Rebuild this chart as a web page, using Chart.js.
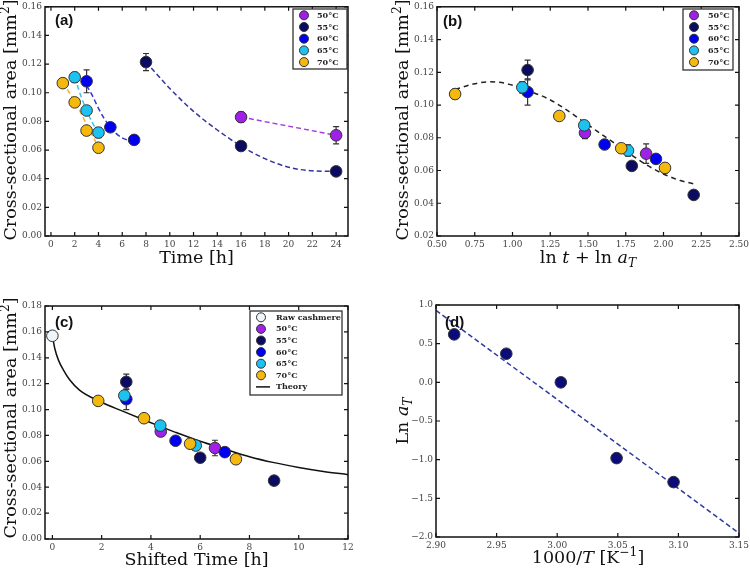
<!DOCTYPE html>
<html>
<head>
<meta charset="utf-8">
<script src="https://cdn.jsdelivr.net/npm/chart.js@4.4.1/dist/chart.umd.min.js"></script>
<style>
  body { margin: 0; background: #fff; }
  #wrap { position: relative; width: 750px; height: 568px; }
  .p { position: absolute; width: 375px; height: 284px; }
</style>
</head>
<body>
<div id="wrap">
  <div class="p" style="left:0;top:0"><canvas id="ca"></canvas></div>
  <div class="p" style="left:375px;top:0"><canvas id="cb"></canvas></div>
  <div class="p" style="left:0;top:284px"><canvas id="cc"></canvas></div>
  <div class="p" style="left:375px;top:284px"><canvas id="cd"></canvas></div>
</div>
<script>
// ---- data ----
const temps = ['50°C', '55°C', '60°C', '65°C', '70°C'];

// (a) time [h] vs cross-sectional area [mm2]
const time50 = [16, 24];
const time55 = [8, 16, 24];
const time60 = [3, 5, 7];
const time65 = [2, 3, 4];
const time70 = [1, 2, 3, 4];
const area50 = [0.083, 0.0703];
const area55 = [0.1214, 0.0628, 0.0451];
const area60 = [0.108, 0.0759, 0.0671];
const area65 = [0.1108, 0.0876, 0.0722];
const area70 = [0.1067, 0.0933, 0.0736, 0.0616];
const err50 = [0.0035, 0.006];
const err55 = [0.006, 0.0015, 0.001];
const err60 = [0.008, 0.0015, 0.001];
const err65 = [0.0035, 0.002, 0.0035];
const err70 = [0.003, 0.002, 0.0015, 0.003];

// (a) dashed fit curves, traced
const fit50X = [16, 24];
const fit50Y = [0.083, 0.0703];
const fit55X = [8, 10, 12, 14, 16, 18, 20, 22, 24];
const fit55Y = [0.1214, 0.103, 0.087, 0.074, 0.0628, 0.054, 0.048, 0.0455, 0.0451];
const fit60X = [3, 3.5, 4, 4.5, 5, 5.5, 6, 6.5, 7];
const fit60Y = [0.105, 0.0978, 0.0891, 0.0818, 0.0759, 0.0715, 0.0685, 0.0671, 0.0671];
const fit65X = [2, 2.5, 3, 3.5, 4];
const fit65Y = [0.1108, 0.0982, 0.0876, 0.0789, 0.0722];
const fit70X = [1, 2, 3, 4];
const fit70Y = [0.107, 0.094, 0.078, 0.062];

// (b) ln t + ln aT
const lnx50 = [1.48, 1.885];
const lnx55 = [1.10, 1.79, 2.20];
const lnx60 = [1.10, 1.61, 1.95];
const lnx65 = [1.065, 1.475, 1.765];
const lnx70 = [0.62, 1.31, 1.72, 2.01];
const bFitX = [0.62, 0.74, 0.85, 0.96, 1.09, 1.23, 1.34, 1.45, 1.56, 1.67, 1.78, 1.89, 2.00, 2.11, 2.20];
const bFitY = [0.1095, 0.1128, 0.1142, 0.1131, 0.1091, 0.1041, 0.0981, 0.0911, 0.0840, 0.0770, 0.0700, 0.0633, 0.0579, 0.0539, 0.0519];

// (c) shifted time [h]
const rawX = [0];
const rawY = [0.157];
const st50 = [4.4, 6.6];
const st55 = [3.0, 6.0, 9.0];
const st60 = [3.0, 5.0, 7.0];
const st65 = [2.92, 4.38, 5.82];
const st70 = [1.86, 3.72, 5.59, 7.45];
const theoryX = [0, 0.1, 0.25, 0.45, 0.7, 1.1, 1.86, 2.9, 3.8, 4.4, 5.0, 6.0, 7.0, 8.0, 9.0, 10.0, 11.0, 12.0];
const theoryY = [0.157, 0.147, 0.138, 0.1305, 0.123, 0.115, 0.1068, 0.0984, 0.0914, 0.0868, 0.0824, 0.0755, 0.0695, 0.0636, 0.059, 0.0553, 0.0522, 0.0497];

// (d) Arrhenius plot
const invT = [2.915, 2.958, 3.003, 3.049, 3.096];
const lnaT = [0.62, 0.37, 0.0, -0.98, -1.29];
const dFitX = [2.90, 3.15];
const dFitY = [0.93, -1.95];

// tick labels
const ticksTime = [0, 2, 4, 6, 8, 10, 12, 14, 16, 18, 20, 22, 24];
const ticksAreaA = [0, 0.02, 0.04, 0.06, 0.08, 0.10, 0.12, 0.14, 0.16];
const ticksLnX = [0.5, 0.75, 1.0, 1.25, 1.5, 1.75, 2.0, 2.25, 2.5];
const ticksAreaB = [0.02, 0.04, 0.06, 0.08, 0.10, 0.12, 0.14, 0.16];
const ticksShift = [0, 2, 4, 6, 8, 10, 12];
const ticksAreaC = [0, 0.02, 0.04, 0.06, 0.08, 0.10, 0.12, 0.14, 0.16, 0.18];
const ticksInvT = [2.90, 2.95, 3.00, 3.05, 3.10, 3.15];
const ticksLnA = [-2.0, -1.5, -1.0, -0.5, 0.0, 0.5, 1.0];

// ---- styles ----
const SERIF = '"DejaVu Serif", serif';
const fill = ['#a020e8', '#0b0b62', '#0000f0', '#1ec2f0', '#f5b80c'];
const fitColors = ['#a040e0', '#34349a', '#3636cc', '#3cc4e8', '#f0b428'];
const rawColor = '#eef6fb';

const pts = (xs, ys) => xs.map((x, i) => ({ x: x, y: ys[i] }));

function pointSet(xs, ys, errs, i, color) {
  return {
    data: pts(xs, ys), errorBars: errs, showLine: false,
    pointRadius: 5.8, pointHoverRadius: 5.8, pointBorderWidth: 1,
    pointBorderColor: '#333', pointBackgroundColor: color, order: 5 - i
  };
}
function lineSet(xs, ys, color, dash, smooth) {
  return {
    data: pts(xs, ys), showLine: true, pointRadius: 0, borderColor: color,
    borderWidth: 1.5, borderDash: dash, cubicInterpolationMode: smooth ? 'monotone' : 'default', order: 20
  };
}

function axis(min, max, ticks, fmt, size, isX) {
  return {
    type: 'linear', min: min, max: max,
    grid: { display: false, drawTicks: false },
    border: { display: false },
    ticks: { font: { family: SERIF, size: 9 }, color: '#444', padding: 3, autoSkip: false, maxRotation: 0, callback: fmt },
    afterBuildTicks: s => { s.ticks = ticks.map(v => ({ value: v })); },
    afterFit: s => {
      if (isX) s.height = size; else s.width = size;
      s.paddingLeft = 0; s.paddingRight = 0; s.paddingTop = 0; s.paddingBottom = 0;
    }
  };
}
const f0 = v => String(Math.round(v));
const f1 = v => (v < 0 ? '\u2212' : '') + Math.abs(v).toFixed(1);
const f2 = v => v.toFixed(2);

function drawRich(ctx, segs, cx, cy, size, rot) {
  const items = segs.map(s => typeof s === 'string' ? { t: s } : s);
  const fontOf = s => (s.i ? 'italic ' : '') + ((s.sub || s.sup) ? size * 0.7 : size) + 'px ' + SERIF;
  let w = 0;
  const widths = items.map(s => { ctx.font = fontOf(s); const m = ctx.measureText(s.t).width; w += m; return m; });
  ctx.save();
  ctx.translate(cx, cy);
  if (rot) ctx.rotate(rot);
  ctx.textAlign = 'left';
  ctx.textBaseline = 'alphabetic';
  ctx.fillStyle = '#111';
  let xx = -w / 2;
  items.forEach((s, k) => {
    ctx.font = fontOf(s);
    const dy = s.sub ? size * 0.22 : s.sup ? -size * 0.38 : 0;
    ctx.fillText(s.t, xx, size * 0.35 + dy);
    xx += widths[k];
  });
  ctx.restore();
}

function makePanel(cfg) {
  return {
    id: 'panel',
    beforeDatasetsDraw(chart) {
      const { ctx, scales: { x, y } } = chart;
      ctx.save();
      ctx.strokeStyle = '#333';
      ctx.lineWidth = 1.2;
      chart.data.datasets.forEach(ds => {
        if (!ds.errorBars) return;
        ds.data.forEach((p, i) => {
          const e = ds.errorBars[i];
          if (!e) return;
          const px = x.getPixelForValue(p.x);
          const t = y.getPixelForValue(p.y + e), b = y.getPixelForValue(p.y - e);
          ctx.beginPath();
          ctx.moveTo(px, t); ctx.lineTo(px, b);
          ctx.moveTo(px - 3, t); ctx.lineTo(px + 3, t);
          ctx.moveTo(px - 3, b); ctx.lineTo(px + 3, b);
          ctx.stroke();
        });
      });
      ctx.restore();
    },
    afterDraw(chart) {
      const { ctx, chartArea: a, scales: { x, y } } = chart;
      ctx.save();
      // frame + inward ticks
      ctx.strokeStyle = '#111';
      ctx.lineWidth = 1.5;
      ctx.strokeRect(a.left, a.top, a.right - a.left, a.bottom - a.top);
      ctx.lineWidth = 1.2;
      ctx.beginPath();
      x.ticks.forEach(t => {
        const px = x.getPixelForValue(t.value);
        ctx.moveTo(px, a.bottom); ctx.lineTo(px, a.bottom - 4);
        ctx.moveTo(px, a.top); ctx.lineTo(px, a.top + 4);
      });
      y.ticks.forEach(t => {
        const py = y.getPixelForValue(t.value);
        ctx.moveTo(a.left, py); ctx.lineTo(a.left + 4, py);
        ctx.moveTo(a.right, py); ctx.lineTo(a.right - 4, py);
      });
      ctx.stroke();
      // axis titles
      drawRich(ctx, cfg.xTitle, cfg.xTitlePos[0], cfg.xTitlePos[1], 17.5, 0);
      drawRich(ctx, cfg.yTitle, cfg.yTitlePos[0], cfg.yTitlePos[1], 17.5, -Math.PI / 2);
      // panel label
      ctx.font = 'bold 15px "Liberation Sans", Arial, sans-serif';
      ctx.fillStyle = '#111';
      ctx.textBaseline = 'middle';
      ctx.textAlign = 'left';
      ctx.fillText(cfg.label, cfg.labelPos[0], cfg.labelPos[1]);
      // legend
      const L = cfg.legend;
      if (L) {
        ctx.fillStyle = '#fff';
        ctx.fillRect(L.box[0], L.box[1], L.box[2], L.box[3]);
        ctx.strokeStyle = '#333';
        ctx.lineWidth = 1.3;
        ctx.strokeRect(L.box[0], L.box[1], L.box[2], L.box[3]);
        ctx.font = 'bold 8px ' + SERIF;
        L.items.forEach((it, k) => {
          const ry = L.y0 + k * L.dy;
          if (it.line) {
            ctx.strokeStyle = it.line;
            ctx.lineWidth = 1.5;
            ctx.beginPath(); ctx.moveTo(L.mx - 5, ry); ctx.lineTo(L.mx + 9, ry); ctx.stroke();
          } else {
            ctx.beginPath();
            ctx.arc(L.mx, ry, 4.5, 0, Math.PI * 2);
            ctx.fillStyle = it.color; ctx.fill();
            ctx.strokeStyle = '#333'; ctx.lineWidth = 1; ctx.stroke();
          }
          ctx.fillStyle = '#222';
          ctx.fillText(it.label, L.tx, ry + 0.5);
        });
      }
      ctx.restore();
    }
  };
}

function build(id, datasets, scales, padding, cfg) {
  return new Chart(document.getElementById(id), {
    type: 'scatter',
    data: { datasets: datasets },
    options: {
      responsive: true, maintainAspectRatio: false, animation: false,
      layout: { padding: padding },
      scales: scales,
      plugins: { legend: { display: false }, tooltip: { enabled: false } }
    },
    plugins: [makePanel(cfg)]
  });
}

const tempItems = temps.map((t, i) => ({ label: t, color: fill[i] }));
const xsA = [time50, time55, time60, time65, time70];
const ysA = [area50, area55, area60, area65, area70];
const esA = [err50, err55, err60, err65, err70];
const fitXA = [fit50X, fit55X, fit60X, fit65X, fit70X];
const fitYA = [fit50Y, fit55Y, fit60Y, fit65Y, fit70Y];
const xsB = [lnx50, lnx55, lnx60, lnx65, lnx70];
const xsC = [st50, st55, st60, st65, st70];

// (a)
build('ca',
  fitXA.map((xs, i) => lineSet(xs, fitYA[i], fitColors[i], [5, 3], true))
    .concat(xsA.map((xs, i) => pointSet(xs, ysA[i], esA[i], i, fill[i]))),
  { x: axis(-0.5, 25, ticksTime, f0, 48, true), y: axis(0, 0.16, ticksAreaA, f2, 45, false) },
  { left: 0, right: 27, top: 4, bottom: 0 },
  {
    label: '(a)', labelPos: [55, 21],
    xTitle: ['Time [h]'], xTitlePos: [196.5, 257],
    yTitle: ['Cross-sectional area [mm', { t: '2', sup: true }, ']'], yTitlePos: [10, 120],
    legend: { box: [293, 9, 54, 60], mx: 304, tx: 317, y0: 15.3, dy: 11.7, items: tempItems }
  });

// (b)
build('cb',
  [lineSet(bFitX, bFitY, '#222', [5, 4], true)]
    .concat(xsB.map((xs, i) => pointSet(xs, ysA[i], esA[i], i, fill[i]))),
  { x: axis(0.5, 2.5, ticksLnX, f2, 48, true), y: axis(0.02, 0.16, ticksAreaB, f2, 62, false) },
  { left: 0, right: 11, top: 4, bottom: 0 },
  {
    label: '(b)', labelPos: [68, 22],
    xTitle: ['ln ', { t: 't', i: true }, ' + ln ', { t: 'a', i: true }, { t: 'T', i: true, sub: true }], xTitlePos: [213, 257],
    yTitle: ['Cross-sectional area [mm', { t: '2', sup: true }, ']'], yTitlePos: [27, 120],
    legend: { box: [308, 9, 50, 61], mx: 319, tx: 333, y0: 15.3, dy: 11.7, items: tempItems }
  });

// (c)
build('cc',
  [lineSet(theoryX, theoryY, '#111', [], true), pointSet(rawX, rawY, null, -1, rawColor)]
    .concat(xsC.map((xs, i) => pointSet(xs, ysA[i], esA[i], i, fill[i]))),
  { x: axis(-0.3, 12, ticksShift, f0, 29, true), y: axis(0, 0.18, ticksAreaC, f2, 45, false) },
  { left: 0, right: 27, top: 22, bottom: 0 },
  {
    label: '(c)', labelPos: [55, 39],
    xTitle: ['Shifted Time [h]'], xTitlePos: [196.5, 275],
    yTitle: ['Cross-sectional area [mm', { t: '2', sup: true }, ']'], yTitlePos: [10, 134],
    legend: {
      box: [250, 27, 92, 84], mx: 261, tx: 276, y0: 33.3, dy: 11.6,
      items: [{ label: 'Raw cashmere', color: rawColor }].concat(tempItems, [{ label: 'Theory', line: '#111' }])
    }
  });

// (d)
build('cd',
  [lineSet(dFitX, dFitY, '#2b3aa0', [5, 3], false), pointSet(invT, lnaT, null, 0, '#0b0b7a')],
  { x: axis(2.90, 3.15, ticksInvT, f2, 31, true), y: axis(-2.0, 1.0, ticksLnA, f1, 61, false) },
  { left: 0, right: 11, top: 21, bottom: 0 },
  {
    label: '(d)', labelPos: [70, 39],
    xTitle: ['1000/', { t: 'T', i: true }, ' [K', { t: '\u22121', sup: true }, ']'], xTitlePos: [213, 273],
    yTitle: ['Ln ', { t: 'a', i: true }, { t: 'T', i: true, sub: true }], yTitlePos: [27, 137]
  });
</script>
</body>
</html>
